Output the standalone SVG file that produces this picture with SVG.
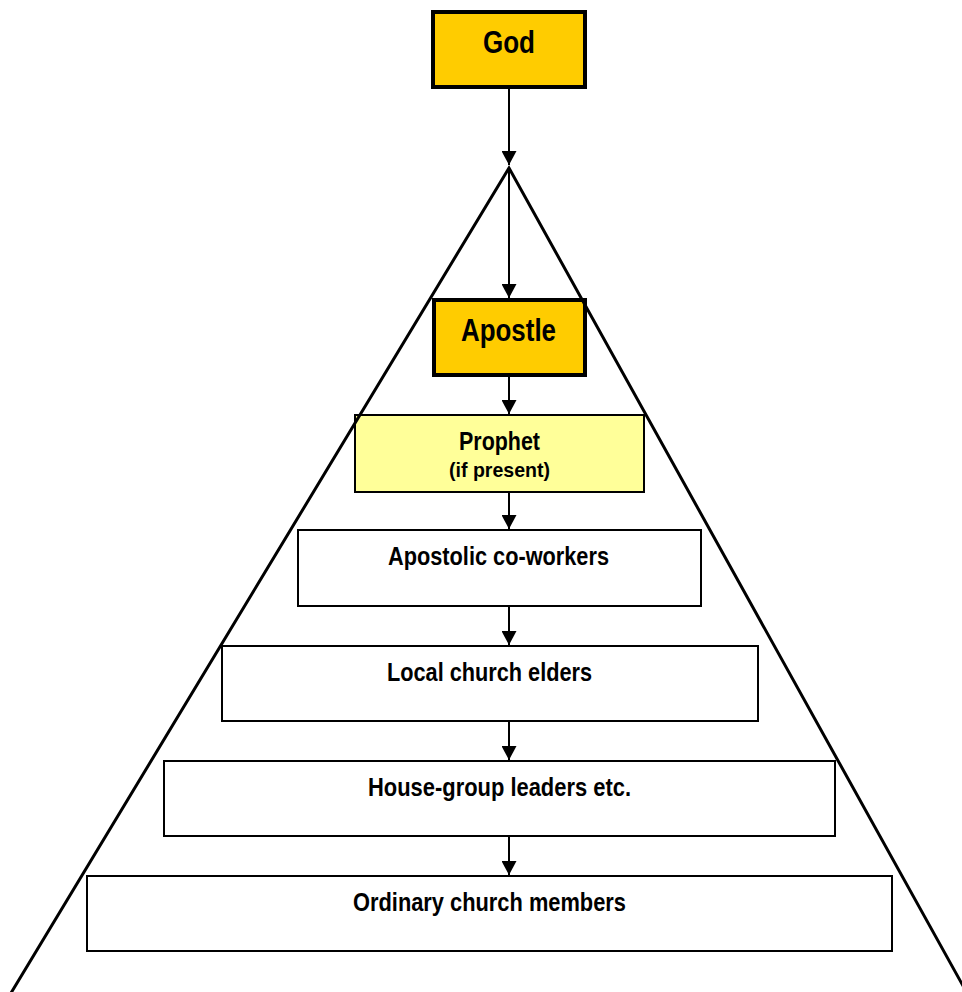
<svg xmlns="http://www.w3.org/2000/svg" width="962" height="992" viewBox="0 0 962 992">
<style>
  .lbl { font-family: "Liberation Sans Narrow", "Liberation Sans", Arial, sans-serif; font-weight: bold; fill: #000; text-anchor: middle; }
  .big { font-size: 31px; }
  .mid { font-size: 25px; }
  .small { font-size: 21px; }
  .gold { fill: #FFCC00; stroke: #000; stroke-width: 4; }
  .pale { fill: #FFFF99; stroke: #000; stroke-width: 2; }
  .plain { fill: #FFFFFF; stroke: #000; stroke-width: 2; }
  .conn { stroke: #000; stroke-width: 2; fill: none; }
  .tri { stroke: #000; stroke-width: 3; fill: none; stroke-linejoin: miter; }
</style>
<defs>
  <marker id="arr" markerUnits="userSpaceOnUse" markerWidth="15" markerHeight="15" refX="14" refY="7.5" orient="auto">
    <path d="M0,0 L14,7.5 L0,15 z" fill="#000"/>
  </marker>
</defs>
<rect x="0" y="0" width="962" height="992" fill="#FFFFFF"/>

<g id="n-god">
  <rect class="gold" x="433" y="12" width="152" height="75"/>
  <text class="lbl big" x="509" y="53" textLength="52" lengthAdjust="spacingAndGlyphs">God</text>
</g>
<g id="n-apostle">
  <rect class="gold" x="434" y="300" width="151" height="75"/>
  <text class="lbl big" x="508.5" y="341" textLength="95" lengthAdjust="spacingAndGlyphs">Apostle</text>
</g>
<g id="n-prophet">
  <rect class="pale" x="355" y="415" width="289" height="77"/>
  <text class="lbl mid" x="499.5" y="450" textLength="81" lengthAdjust="spacingAndGlyphs">Prophet</text>
  <text class="lbl small" x="499.5" y="477" textLength="101" lengthAdjust="spacingAndGlyphs">(if present)</text>
</g>
<g id="n-coworkers">
  <rect class="plain" x="298" y="530" width="403" height="76"/>
  <text class="lbl mid" x="498.5" y="565" textLength="221" lengthAdjust="spacingAndGlyphs">Apostolic co-workers</text>
</g>
<g id="n-elders">
  <rect class="plain" x="222" y="646" width="536" height="75"/>
  <text class="lbl mid" x="489.5" y="681" textLength="205" lengthAdjust="spacingAndGlyphs">Local church elders</text>
</g>
<g id="n-housegroup">
  <rect class="plain" x="164" y="761" width="671" height="75"/>
  <text class="lbl mid" x="499.5" y="796" textLength="263" lengthAdjust="spacingAndGlyphs">House-group leaders etc.</text>
</g>
<g id="n-members">
  <rect class="plain" x="87" y="876" width="805" height="75"/>
  <text class="lbl mid" x="489.5" y="911" textLength="273" lengthAdjust="spacingAndGlyphs">Ordinary church members</text>
</g>

<g id="connectors">
  <line class="conn" x1="509" y1="89" x2="509" y2="165" marker-end="url(#arr)"/>
  <line class="conn" x1="509" y1="168" x2="509" y2="298" marker-end="url(#arr)"/>
  <line class="conn" x1="509" y1="377" x2="509" y2="414" marker-end="url(#arr)"/>
  <line class="conn" x1="509" y1="493" x2="509" y2="529" marker-end="url(#arr)"/>
  <line class="conn" x1="509" y1="607" x2="509" y2="645" marker-end="url(#arr)"/>
  <line class="conn" x1="509" y1="722" x2="509" y2="760" marker-end="url(#arr)"/>
  <line class="conn" x1="509" y1="837" x2="509" y2="875" marker-end="url(#arr)"/>
</g>

<g id="pyramid">
  <polyline class="tri" points="11,993 509,168 967,993"/>
</g>
</svg>
